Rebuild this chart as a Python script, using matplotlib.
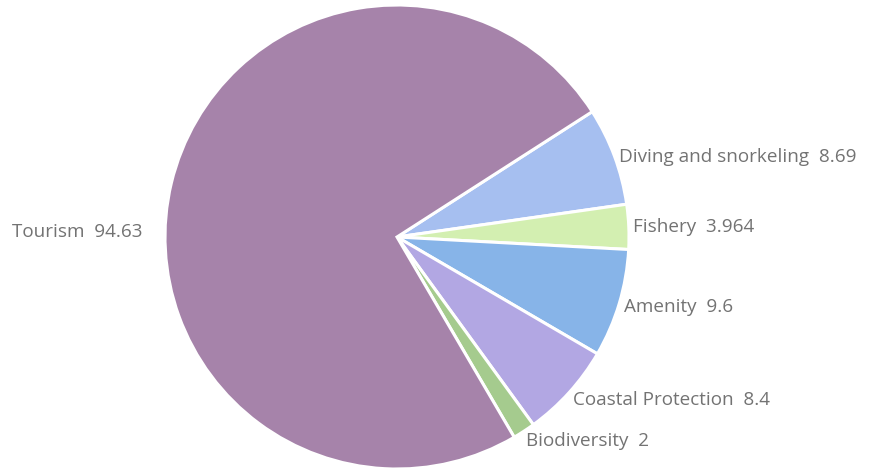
import matplotlib
matplotlib.use("Agg")
import matplotlib.pyplot as plt
import numpy as np

categories = ["Diving and snorkeling", "Fishery", "Amenity", "Coastal Protection", "Biodiversity", "Tourism"]
values = [8.69, 3.964, 9.6, 8.4, 2, 94.63]
value_labels = ["8.69", "3.964", "9.6", "8.4", "2", "94.63"]
colors = ["#a6bff0", "#d3efb1", "#87b4e8", "#b2a7e3", "#a5cb8e", "#a683aa"]

plt.rcParams['font.family'] = ['Open Sans', 'DejaVu Sans']

fig = plt.figure(figsize=(8.74, 4.69), dpi=100)
ax = fig.add_axes([0, 0, 1, 1])

wedges, _ = ax.pie(values, startangle=32.7, counterclock=False, colors=colors,
                   radius=1.0, labels=None,
                   wedgeprops=dict(edgecolor='white', linewidth=2.2))

ax.set_xlim(-397/232, (874-397)/232)
ax.set_ylim(-232/232, 237/232)
ax.set_aspect('equal')
ax.axis('off')

fs = 13.6
for w, cat, vl in zip(wedges, categories, value_labels):
    ang = np.deg2rad((w.theta1 + w.theta2) / 2)
    txt = f"{cat}  {vl}"
    if cat == "Tourism":
        ax.text(-1.095, 0.02, txt, ha='right', va='center', fontsize=fs, color='#737373')
    else:
        x = 1.02 * np.cos(ang)
        ry = 1.02 if np.sin(ang) > 0 else 1.05
        y = ry * np.sin(ang) - (0.01 if np.sin(ang) > 0.2 else 0)
        ax.text(x, y, txt, ha='left', va='center', fontsize=fs, color='#737373')

fig.savefig("out.png", dpi=100)
